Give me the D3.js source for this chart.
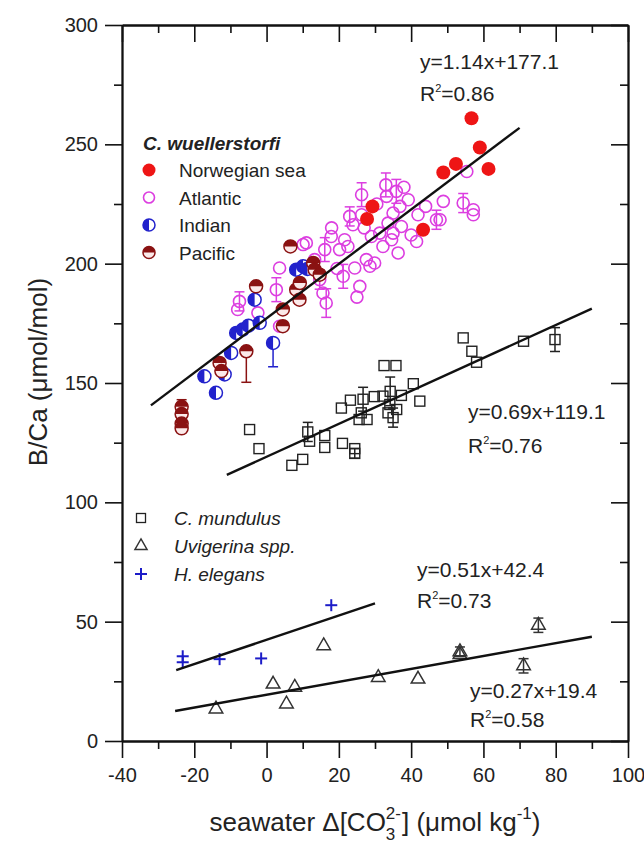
<!DOCTYPE html>
<html>
<head>
<meta charset="utf-8">
<script src="https://cdn.jsdelivr.net/npm/d3@7"></script>
<style>
  body { margin: 0; background: #fff; }
  text { font-family: "Liberation Sans", Arial, Helvetica, sans-serif; fill: #222; }
</style>
</head>
<body>
<svg id="chart" width="644" height="857"></svg>
<script>
// Axis ticks
const xTicks = [-40, -20, 0, 20, 40, 60, 80, 100];
const xMinorTicks = [-30, -10, 10, 30, 50, 70, 90];
const yTicks = [0, 50, 100, 150, 200, 250, 300];
const yMinorTicks = [25, 75, 125, 175, 225, 275];

// C. wuellerstorfi by ocean basin: [Δ[CO3 2-], B/Ca, error below, error above]
const norwegianSea = [
  [56.7, 260.9], [59, 248.7], [52.4, 241.8], [48.9, 238.2], [61.4, 239.7],
  [29.3, 224], [27.8, 218.7], [43.3, 214.2]
];
const atlantic = [
  [-8, 180.8], [-7.5, 184.2, 4, 4], [-2.4, 179.4], [2.7, 189.1, 5, 5], [3.6, 173.8],
  [3.6, 198.2], [10.1, 208], [11, 208.7], [13.3, 201.7], [14.7, 193.3, 4, 4],
  [15.6, 187.7], [16.1, 205.9, 5, 5], [16.5, 183.5, 6, 6], [17.9, 211.4], [18, 215],
  [19.5, 198], [20.2, 205.9], [21.2, 194.7, 5, 5], [21.6, 210], [22.5, 207.2],
  [23, 219.8, 4, 4], [23.9, 216.3], [24.4, 198.2], [25, 186], [25.8, 190.5],
  [26.3, 228.9, 5, 5], [26.3, 220.5], [27, 215], [27.6, 201.7], [28.6, 198.9],
  [29, 211.4], [29.9, 200.3], [30.5, 225], [31.3, 212.8], [32.2, 207.2],
  [33, 233, 5, 5], [33.2, 228.2], [33.6, 217], [34.6, 210], [35, 221.2],
  [35, 212.8], [35.9, 230.3, 5, 5], [36.4, 204.5], [36.9, 224], [37.3, 215.6],
  [38, 232], [39.2, 226.8], [40, 212], [41.5, 209.3], [41.9, 220.5],
  [44, 224], [47, 218.4, 4, 4], [48, 218.4], [48.9, 226.1], [54.4, 225.4, 4, 4],
  [55.4, 238.6], [57.2, 222.6], [57.2, 220.5]
];
const indian = [
  [-17.2, 152.8], [-14, 145.9], [-11.6, 153.6], [-9.8, 162.6], [-8.4, 171],
  [-6.6, 172.4], [-5, 174], [-3.3, 184.9], [-1.9, 175.2], [1.8, 166.8, 10, 0],
  [8.2, 197.5], [10.1, 198.9], [11.3, 197.8]
];
const pacific = [
  [-23.5, 140, 3, 3], [-23.5, 137], [-23.5, 133], [-23.5, 131],
  [-13, 158.4], [-12.5, 155], [-5.6, 163.3, 13, 0], [-2.9, 190.5],
  [4.5, 180.8], [4.5, 173.8], [6.6, 207.2], [8.2, 189.1], [9.2, 191.9],
  [9.1, 184.9], [12.9, 200.3], [13.3, 197.5], [14.7, 195.4]
];

// C. mundulus: [Δ[CO3 2-], B/Ca, error]
const mundulus = [
  [-4.7, 130.5], [-2.1, 122.5], [7, 115.5], [10, 118], [11.4, 129.5, 4],
  [11.9, 125.6], [16.1, 128], [16.1, 123], [21, 124.7], [24.4, 122.5],
  [24.4, 120.5, 2], [20.7, 139.5], [23.2, 142.8], [26.7, 143.2, 5], [25.6, 134.7],
  [27.8, 134.7], [26.2, 137.5], [29.8, 144.3], [32.2, 144.5], [32.5, 157.3],
  [35.8, 157.3], [34.2, 146.5, 6], [34.1, 141], [33.6, 137.5], [36, 138.9],
  [35, 135.5, 4], [37.3, 144.8], [40.6, 149.7], [42.4, 142.4], [54.4, 168.9],
  [56.8, 163.3], [58.1, 158.7], [71.1, 167.5], [79.8, 168.2, 5]
];

// Uvigerina spp.: [Δ[CO3 2-], B/Ca, error]
const uvigerina = [
  [-14, 13.4], [1.8, 23.8], [7.8, 22.5], [5.5, 15.5], [15.8, 39.9],
  [30.9, 26.6], [41.9, 25.9], [53.5, 37.4, 2], [53.5, 36.2], [71.1, 31.5, 3],
  [75.2, 48.5, 3]
];

// H. elegans: [Δ[CO3 2-], B/Ca]
const hElegans = [
  [-23.2, 35.5], [-23.2, 33], [-13, 34.3], [-1.5, 34.6], [17.9, 56.9]
];

// Linear fits: slope, intercept, x range
const fitSlopes = [1.14, 0.69, 0.51, 0.27];
const fitIntercepts = [177.1, 119.1, 42.4, 19.4];
const fitFrom = [-32, -11, -25, -25.3];
const fitTo = [70, 90, 30, 90];
const fitEquations = ["y=1.14x+177.1", "y=0.69x+119.1", "y=0.51x+42.4", "y=0.27x+19.4"];
const fitR2 = ["0.86", "0.76", "0.73", "0.58"];

const colors = {
  norwegian: "#ee1515",
  atlantic: "#dc3ee0",
  indian: "#2222cc",
  pacific: "#8a1212",
  mundulus: "#222",
  uvigerina: "#333",
  elegans: "#1c1cc8"
};

const svg = d3.select("#chart");
const x = d3.scaleLinear().domain([-40, 100]).range([122, 628]);
const y = d3.scaleLinear().domain([0, 300]).range([741, 25]);

// ---- axes and frame ----
function styleAxis(g) {
  g.selectAll("path.domain").attr("stroke", "#111").attr("stroke-width", 1.8);
  g.selectAll(".tick line").attr("stroke", "#111").attr("stroke-width", 1.6);
  g.selectAll(".tick text").style("font-size", "20px").attr("fill", "#222")
    .style("font-family", '"Liberation Sans", Arial, sans-serif');
}
const plain = d => String(d);

svg.append("g").attr("transform", `translate(0,${y(0)})`)
  .call(d3.axisBottom(x).tickValues(xTicks).tickSize(17).tickSizeOuter(0).tickPadding(10).tickFormat(plain))
  .call(styleAxis);
svg.append("g").attr("transform", `translate(0,${y(0)})`)
  .call(d3.axisBottom(x).tickValues(xMinorTicks).tickSize(8).tickSizeOuter(0).tickFormat(""))
  .call(styleAxis);
svg.append("g").attr("transform", `translate(${x(-40)},0)`)
  .call(d3.axisLeft(y).tickValues(yTicks).tickSize(17).tickSizeOuter(0).tickPadding(7).tickFormat(plain))
  .call(styleAxis);
svg.append("g").attr("transform", `translate(${x(-40)},0)`)
  .call(d3.axisLeft(y).tickValues(yMinorTicks).tickSize(8).tickSizeOuter(0).tickFormat(""))
  .call(styleAxis);
// top and right frame with inward ticks
svg.append("g").attr("transform", `translate(0,${y(300)})`)
  .call(d3.axisBottom(x).tickValues(xTicks).tickSize(17).tickSizeOuter(0).tickFormat(""))
  .call(styleAxis);
svg.append("g").attr("transform", `translate(0,${y(300)})`)
  .call(d3.axisBottom(x).tickValues(xMinorTicks).tickSize(8).tickSizeOuter(0).tickFormat(""))
  .call(styleAxis);
svg.append("g").attr("transform", `translate(${x(100)},0)`)
  .call(d3.axisLeft(y).tickValues(yTicks).tickSize(17).tickSizeOuter(0).tickFormat(""))
  .call(styleAxis);
svg.append("g").attr("transform", `translate(${x(100)},0)`)
  .call(d3.axisLeft(y).tickValues(yMinorTicks).tickSize(8).tickSizeOuter(0).tickFormat(""))
  .call(styleAxis);

// axis titles
svg.append("text")
  .attr("transform", `translate(47,372) rotate(-90)`)
  .attr("text-anchor", "middle")
  .style("font-size", "26px")
  .text("B/Ca (μmol/mol)");

(function xTitle() {
  const g = svg.append("g");
  const fs = 26, small = 17;
  const base = 831;
  const t1 = g.append("text").attr("y", base).style("font-size", fs + "px").text("seawater Δ[CO");
  const sup = g.append("text").attr("y", base - 12).style("font-size", small + "px").text("2-");
  const sub = g.append("text").attr("y", base + 9).style("font-size", small + "px").text("3");
  const t2 = g.append("text").attr("y", base).style("font-size", fs + "px").text("] (μmol kg");
  const sup2 = g.append("text").attr("y", base - 12).style("font-size", small + "px").text("-1");
  const t3 = g.append("text").attr("y", base).style("font-size", fs + "px").text(")");
  const w1 = t1.node().getComputedTextLength();
  const ws = Math.max(sup.node().getComputedTextLength(), sub.node().getComputedTextLength());
  const w2 = t2.node().getComputedTextLength();
  const ws2 = sup2.node().getComputedTextLength();
  const w3 = t3.node().getComputedTextLength();
  const total = w1 + ws + 1 + w2 + ws2 + w3;
  let cx = (x(-40) + x(100)) / 2 - total / 2;
  t1.attr("x", cx); cx += w1;
  sup.attr("x", cx); sub.attr("x", cx); cx += ws + 1;
  t2.attr("x", cx); cx += w2;
  sup2.attr("x", cx); cx += ws2;
  t3.attr("x", cx);
})();

// ---- error bars ----
function errorBars(data, color, cap, loIdx, hiIdx) {
  const withErr = data.filter(d => (d[loIdx] || 0) > 0 || (d[hiIdx] || 0) > 0);
  const g = svg.append("g").attr("stroke", color).attr("stroke-width", 1.5).attr("fill", "none");
  withErr.forEach(d => {
    const lo = d[loIdx] || 0, hi = d[hiIdx] || 0;
    const px = x(d[0]);
    const y1 = y(d[1] - lo), y2 = y(d[1] + hi);
    g.append("line").attr("x1", px).attr("x2", px).attr("y1", y1).attr("y2", y2);
    if (lo > 0) g.append("line").attr("x1", px - cap).attr("x2", px + cap).attr("y1", y1).attr("y2", y1);
    if (hi > 0) g.append("line").attr("x1", px - cap).attr("x2", px + cap).attr("y1", y2).attr("y2", y2);
  });
}

// ---- C. wuellerstorfi ----
errorBars(atlantic, colors.atlantic, 5, 2, 3);
svg.append("g").selectAll("circle").data(atlantic).join("circle")
  .attr("cx", d => x(d[0])).attr("cy", d => y(d[1])).attr("r", 6)
  .attr("fill", "none").attr("stroke", colors.atlantic).attr("stroke-width", 1.6);

const R = 6.5;
const leftHalf = r => `M0,${-r}A${r},${r} 0 0 0 0,${r}Z`;
const topHalf = r => `M${-r},0A${r},${r} 0 0 1 ${r},0Z`;

function indianMark(sel, r) {
  sel.append("circle").attr("r", r).attr("fill", "#fff").attr("stroke", colors.indian).attr("stroke-width", 1.5);
  sel.append("path").attr("d", leftHalf(r)).attr("fill", colors.indian);
}
function pacificMark(sel, r) {
  sel.append("circle").attr("r", r).attr("fill", "#fbe9e9").attr("stroke", colors.pacific).attr("stroke-width", 1.5);
  sel.append("path").attr("d", topHalf(r)).attr("fill", colors.pacific);
}

errorBars(indian, colors.indian, 5, 2, 3);
svg.append("g").selectAll("g").data(indian).join("g")
  .attr("transform", d => `translate(${x(d[0])},${y(d[1])})`)
  .each(function () { indianMark(d3.select(this), R); });

errorBars(pacific, colors.pacific, 5, 2, 3);
svg.append("g").selectAll("g").data(pacific).join("g")
  .attr("transform", d => `translate(${x(d[0])},${y(d[1])})`)
  .each(function () { pacificMark(d3.select(this), R); });

svg.append("g").selectAll("circle").data(norwegianSea).join("circle")
  .attr("cx", d => x(d[0])).attr("cy", d => y(d[1])).attr("r", 7)
  .attr("fill", colors.norwegian);

// ---- C. mundulus ----
errorBars(mundulus, colors.mundulus, 5, 2, 2);
const sq = 10;
svg.append("g").selectAll("rect").data(mundulus).join("rect")
  .attr("x", d => x(d[0]) - sq / 2).attr("y", d => y(d[1]) - sq / 2)
  .attr("width", sq).attr("height", sq)
  .attr("fill", "none").attr("stroke", colors.mundulus).attr("stroke-width", 1.4);

// ---- Uvigerina spp. ----
errorBars(uvigerina, colors.uvigerina, 5, 2, 2);
const tri = d3.symbol().type(d3.symbolTriangle).size(80);
svg.append("g").selectAll("path").data(uvigerina).join("path")
  .attr("transform", d => `translate(${x(d[0])},${y(d[1])})`)
  .attr("d", tri)
  .attr("fill", "none").attr("stroke", colors.uvigerina).attr("stroke-width", 1.5);

// ---- H. elegans ----
function plusMark(sel, s) {
  sel.append("line").attr("x1", -s).attr("x2", s).attr("stroke", colors.elegans).attr("stroke-width", 2);
  sel.append("line").attr("y1", -s).attr("y2", s).attr("stroke", colors.elegans).attr("stroke-width", 2);
}
svg.append("g").selectAll("g").data(hElegans).join("g")
  .attr("transform", d => `translate(${x(d[0])},${y(d[1])})`)
  .each(function () { plusMark(d3.select(this), 6); });

// ---- regression lines ----
const fits = fitSlopes.map((m, i) => ({
  m, b: fitIntercepts[i], x0: fitFrom[i], x1: fitTo[i], eq: fitEquations[i], r2: fitR2[i]
}));
svg.append("g").selectAll("line").data(fits).join("line")
  .attr("x1", d => x(d.x0)).attr("y1", d => y(d.m * d.x0 + d.b))
  .attr("x2", d => x(d.x1)).attr("y2", d => y(d.m * d.x1 + d.b))
  .attr("stroke", "#111").attr("stroke-width", 2.4);

// equation labels: [left x, baseline of equation, baseline of R²]
const eqPos = [[420, 69, 101], [468, 419, 453], [417, 577, 608], [470, 698, 727]];
fits.forEach((d, i) => {
  const [lx, b1, b2] = eqPos[i];
  svg.append("text").attr("x", lx).attr("y", b1).style("font-size", "21px").text(d.eq);
  const t = svg.append("text").attr("x", lx).attr("y", b2).style("font-size", "21px");
  t.append("tspan").text("R");
  t.append("tspan").attr("dy", -9).style("font-size", "11px").text("2");
  t.append("tspan").attr("dy", 9).text("=" + d.r2);
});

// ---- legends ----
const leg1 = svg.append("g");
leg1.append("text").attr("x", 143).attr("y", 150)
  .style("font-size", "19px").style("font-weight", "bold").style("font-style", "italic")
  .text("C. wuellerstorfi");
const leg1Items = [
  { label: "Norwegian sea", draw: s => s.append("circle").attr("r", 6.5).attr("fill", colors.norwegian) },
  { label: "Atlantic", draw: s => s.append("circle").attr("r", 5.5).attr("fill", "none").attr("stroke", colors.atlantic).attr("stroke-width", 1.6) },
  { label: "Indian", draw: s => indianMark(s, 6) },
  { label: "Pacific", draw: s => pacificMark(s, 6) }
];
leg1Items.forEach((it, i) => {
  const cy = 170 + i * 27.5;
  const g = leg1.append("g").attr("transform", `translate(149,${cy})`);
  it.draw(g);
  leg1.append("text").attr("x", 179).attr("y", cy + 7).style("font-size", "19px").text(it.label);
});

const leg2 = svg.append("g");
const leg2Items = [
  { label: "C. mundulus", draw: s => s.append("rect").attr("x", -4.5).attr("y", -4.5).attr("width", 9).attr("height", 9).attr("fill", "none").attr("stroke", colors.mundulus).attr("stroke-width", 1.3) },
  { label: "Uvigerina spp.", draw: s => s.append("path").attr("d", d3.symbol().type(d3.symbolTriangle).size(65)()).attr("fill", "none").attr("stroke", colors.uvigerina).attr("stroke-width", 1.4) },
  { label: "H. elegans", draw: s => plusMark(s, 6) }
];
leg2Items.forEach((it, i) => {
  const cy = 518 + i * 28;
  const g = leg2.append("g").attr("transform", `translate(141,${cy})`);
  it.draw(g);
  leg2.append("text").attr("x", 174).attr("y", cy + 7)
    .style("font-size", "19px").style("font-style", "italic").text(it.label);
});
</script>
</body>
</html>
